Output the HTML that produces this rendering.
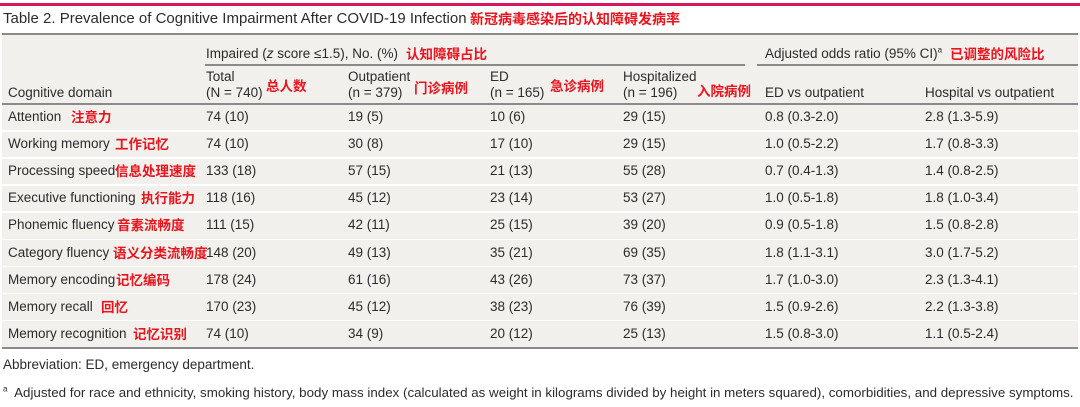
<!DOCTYPE html>
<html><head><meta charset="utf-8"><style>
body{margin:0;width:1080px;height:407px;background:#fff;position:relative;overflow:hidden;font-family:"Liberation Sans","Noto Sans CJK SC",sans-serif;color:#2b2b2b;font-size:13.5px}
div,span{position:absolute;white-space:nowrap;line-height:16px}
.cn{color:#e8141e;font-weight:bold;font-family:"Noto Sans CJK SC","WenQuanYi Zen Hei",sans-serif;font-size:13.5px}
.hl{height:1.5px;background:#8a8a8a}
.sep{height:1.5px;background:#fff;left:2px;width:1076px}
</style></head><body>
<div style="left:0;top:3px;width:1080px;height:3px;background:#d8175f"></div>
<div style="left:3px;top:11px;font-size:15px">Table 2. Prevalence of Cognitive Impairment After COVID-19 Infection</div>
<div class="cn" style="left:470px;top:11px;font-size:14px">新冠病毒感染后的认知障碍发病率</div>
<div style="left:2px;top:34px;width:1076px;height:314px;background:#f1f0ec"></div>
<div class="hl" style="left:2px;top:33px;width:1076px"></div>
<div style="left:206px;top:46px">Impaired (<i>z</i> score ≤1.5), No. (%)</div>
<div class="cn" style="left:406px;top:45px">认知障碍占比</div>
<div class="hl" style="left:205px;top:64px;width:540px"></div>
<div style="left:765px;top:46px">Adjusted odds ratio (95% CI)<sup style="font-size:8px;line-height:0">a</sup></div>
<div class="cn" style="left:950px;top:45px">已调整的风险比</div>
<div class="hl" style="left:757px;top:64px;width:321px"></div>
<div style="left:8px;top:85px">Cognitive domain</div>
<div style="left:206px;top:69px;line-height:16px">Total<br>(N = 740)</div><div class="cn" style="left:266px;top:77px">总人数</div>
<div style="left:348px;top:69px;line-height:16px">Outpatient<br>(n = 379)</div><div class="cn" style="left:414px;top:79px">门诊病例</div>
<div style="left:490px;top:69px;line-height:16px">ED<br>(n = 165)</div><div class="cn" style="left:550px;top:77px">急诊病例</div>
<div style="left:623px;top:69px;line-height:16px">Hospitalized<br>(n = 196)</div><div class="cn" style="left:697px;top:82px">入院病例</div>
<div style="left:765px;top:85px">ED vs outpatient</div>
<div style="left:925px;top:85px">Hospital vs outpatient</div>
<div class="hl" style="left:2px;top:103px;width:1076px"></div>
<div class="hl" style="left:2px;top:347px;width:1076px;height:2px"></div>
<div id="rows"></div>
<div style="left:3px;top:357px;font-size:13.5px">Abbreviation: ED, emergency department.</div>
<div style="left:3px;top:385px;font-size:13.35px"><sup style="font-size:8px;line-height:0">a</sup>&nbsp; Adjusted for race and ethnicity, smoking history, body mass index (calculated as weight in kilograms divided by height in meters squared), comorbidities, and depressive symptoms.</div>
<script>
const domains=["Attention","Working memory","Processing speed","Executive functioning","Phonemic fluency","Category fluency","Memory encoding","Memory recall","Memory recognition"];
const cnLabels=["注意力","工作记忆","信息处理速度","执行能力","音素流畅度","语义分类流畅度","记忆编码","回忆","记忆识别"];
const cnX=[71,115,115,141,117,113,116,101,133];
const total=["74 (10)","74 (10)","133 (18)","118 (16)","111 (15)","148 (20)","178 (24)","170 (23)","74 (10)"];
const outpatient=["19 (5)","30 (8)","57 (15)","45 (12)","42 (11)","49 (13)","61 (16)","45 (12)","34 (9)"];
const ed=["10 (6)","17 (10)","21 (13)","23 (14)","25 (15)","35 (21)","43 (26)","38 (23)","20 (12)"];
const hosp=["29 (15)","29 (15)","55 (28)","53 (27)","39 (20)","69 (35)","73 (37)","76 (39)","25 (13)"];
const edOR=["0.8 (0.3-2.0)","1.0 (0.5-2.2)","0.7 (0.4-1.3)","1.0 (0.5-1.8)","0.9 (0.5-1.8)","1.8 (1.1-3.1)","1.7 (1.0-3.0)","1.5 (0.9-2.6)","1.5 (0.8-3.0)"];
const hospOR=["2.8 (1.3-5.9)","1.7 (0.8-3.3)","1.4 (0.8-2.5)","1.8 (1.0-3.4)","1.5 (0.8-2.8)","3.0 (1.7-5.2)","2.3 (1.3-4.1)","2.2 (1.3-3.8)","1.1 (0.5-2.4)"];
const cols=[[total,206],[outpatient,348],[ed,490],[hosp,623],[edOR,765],[hospOR,925]];
const root=document.getElementById('rows');
domains.forEach((d,i)=>{
  const y=109+i*27.1;
  if(i>0){const s=document.createElement('div');s.className='sep';s.style.top=(y-6)+'px';
  
  root.appendChild(s);}
  const l=document.createElement('div');l.style.left='8px';l.style.top=y+'px';l.textContent=d;
  
  root.appendChild(l);
  const c=document.createElement('div');c.className='cn';c.style.left=cnX[i]+'px';c.style.top=(y-1)+'px';c.textContent=cnLabels[i];
  
  root.appendChild(c);
  cols.forEach(([arr,x])=>{const e=document.createElement('div');e.style.left=x+'px';e.style.top=y+'px';e.textContent=arr[i];
  
  root.appendChild(e);});
});
</script>
</body></html>
